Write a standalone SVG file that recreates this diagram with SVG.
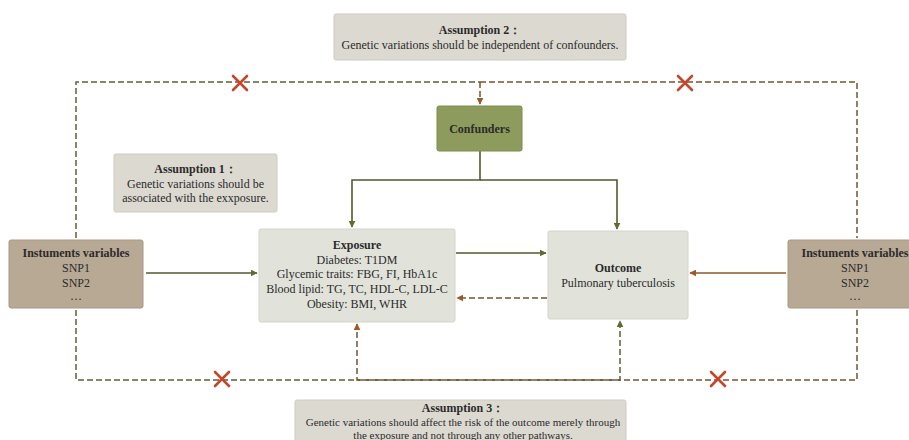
<svg xmlns="http://www.w3.org/2000/svg" width="909" height="440" viewBox="0 0 909 440">
<defs>
<style>
text{font-family:"Liberation Serif","Times New Roman",serif;font-size:12px;fill:#2b2b2b;text-anchor:middle}
.b{font-weight:bold}
.s{font-size:11px}
.assm{fill:#dcd9d1;stroke:#cfcbc2;stroke-width:1}
.inst{fill:#b8a995;stroke:#a89884;stroke-width:1}
.main{fill:#e1e3da;stroke:#d3d5cb;stroke-width:1}
.conf{fill:#8d9c5c;stroke:#7d8b4f;stroke-width:1}
.sol{fill:none;stroke:#525a2e;stroke-width:1.6}
.solb{fill:none;stroke:#8a5a2e;stroke-width:1.6}
.dg{fill:none;stroke:#5b6236;stroke-width:1.5;stroke-dasharray:6 3}
.db{fill:none;stroke:#7a5230;stroke-width:1.5;stroke-dasharray:6 3}
.x{stroke:#c4472c;stroke-width:2.6;stroke-linecap:round}
</style>
<marker id="ag" viewBox="0 0 10 10" refX="9" refY="5" markerWidth="7" markerHeight="7" orient="auto" markerUnits="userSpaceOnUse"><path d="M0,0 L10,5 L0,10 z" fill="#5f6b35"/></marker>
<marker id="ab" viewBox="0 0 10 10" refX="9" refY="5" markerWidth="7" markerHeight="7" orient="auto" markerUnits="userSpaceOnUse"><path d="M0,0 L10,5 L0,10 z" fill="#9a5a2a"/></marker>
</defs>

<g id="connectors">
<path class="dg" d="M76,238 V82 H480"/>
<path class="db" d="M480,82 H857 V238"/>
<path class="db" d="M480,82 V104" marker-end="url(#ab)"/>
<path class="dg" d="M76,310 V380 H620 V321" marker-end="url(#ag)"/>
<path class="db" d="M857,310 V380 H357 V324" marker-end="url(#ab)"/>
<path class="sol" d="M480,151 V180 H352 V227" marker-end="url(#ag)"/>
<path class="sol" d="M480,180 H617 V229" marker-end="url(#ag)"/>
<path class="sol" d="M146,273 H257" marker-end="url(#ag)"/>
<path class="solb" d="M786,273 H690" marker-end="url(#ab)"/>
<path class="sol" d="M456,253 H546" marker-end="url(#ag)"/>
<path class="db" d="M547,298 H457" marker-end="url(#ab)"/>
<path class="x" d="M233,76 L247,90 M247,76 L233,90"/>
<path class="x" d="M678,76 L692,90 M692,76 L678,90"/>
<path class="x" d="M215,372 L229,386 M229,372 L215,386"/>
<path class="x" d="M711,372 L725,386 M725,372 L711,386"/>
</g>

<g id="assumption2">
<rect class="assm" x="334" y="14" width="292" height="46" rx="2"/>
<text class="b" x="480" y="34">Assumption 2：</text>
<text x="480" y="49">Genetic variations should be independent of confounders.</text>
</g>

<g id="confounders">
<rect class="conf" x="437" y="106" width="85" height="45" rx="2"/>
<text class="b" x="479.500" y="133">Confunders</text>
</g>

<g id="assumption1">
<rect class="assm" x="114" y="154" width="163" height="58" rx="2"/>
<text class="b" x="195.500" y="173">Assumption 1：</text>
<text x="195.500" y="188">Genetic variations should be</text>
<text x="195.500" y="202">associated with the exxposure.</text>
</g>

<g id="instruments-left">
<rect class="inst" x="9" y="240" width="134" height="68" rx="2"/>
<text class="b" x="76" y="257">Instuments variables</text>
<text x="76" y="272">SNP1</text>
<text x="76" y="287">SNP2</text>
<text x="76" y="300">…</text>
</g>

<g id="instruments-right">
<rect class="inst" x="788" y="240" width="134" height="68" rx="2"/>
<text class="b" x="855" y="257">Instuments variables</text>
<text x="855" y="272">SNP1</text>
<text x="855" y="287">SNP2</text>
<text x="855" y="300">…</text>
</g>

<g id="exposure">
<rect class="main" x="259" y="229" width="196" height="93" rx="2"/>
<text class="b" x="357" y="249">Exposure</text>
<text x="357" y="264">Diabetes: T1DM</text>
<text x="357" y="278">Glycemic traits: FBG, FI, HbA1c</text>
<text x="357" y="293">Blood lipid: TG, TC, HDL-C, LDL-C</text>
<text x="357" y="308">Obesity: BMI, WHR</text>
</g>

<g id="outcome">
<rect class="main" x="548" y="231" width="140" height="88" rx="2"/>
<text class="b" x="618" y="272">Outcome</text>
<text x="618" y="287">Pulmonary tuberculosis</text>
</g>

<g id="assumption3">
<rect class="assm" x="295" y="400" width="331" height="50" rx="2"/>
<text class="b" x="463" y="412">Assumption 3：</text>
<text class="s" x="463" y="426">Genetic variations should affect the risk of the outcome merely through</text>
<text class="s" x="463" y="439">the exposure and not through any other pathways.</text>
</g>
</svg>
